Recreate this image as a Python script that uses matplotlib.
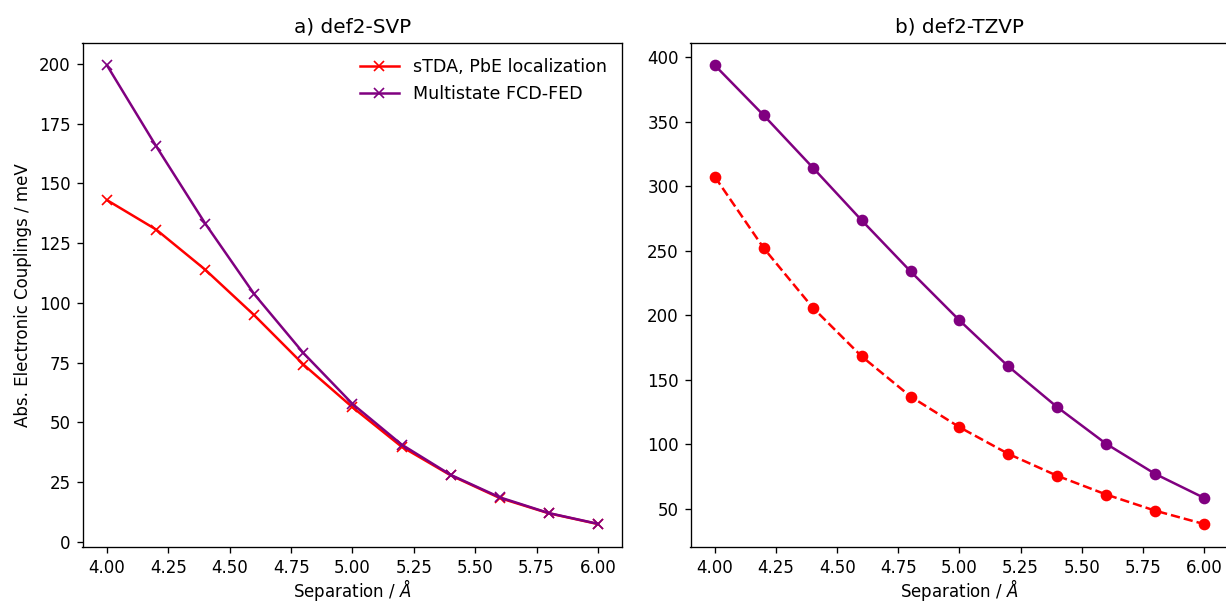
import matplotlib
matplotlib.use("Agg")
import matplotlib.pyplot as plt

# === Data ===
separation = [4.0, 4.2, 4.4, 4.6, 4.8, 5.0, 5.2, 5.4, 5.6, 5.8, 6.0]

svp_stda = [143.0, 130.7, 113.9, 94.8, 74.2, 56.3, 39.8, 27.8, 18.3, 11.9, 7.4]
svp_fcdfed = [199.4, 165.6, 133.2, 103.6, 79.0, 57.7, 40.7, 28.0, 18.6, 12.0, 7.5]

tzvp_stda = [307.1, 251.8, 205.8, 168.0, 136.9, 113.1, 92.4, 75.4, 60.9, 48.4, 38.0]
tzvp_fcdfed = [393.6, 354.8, 314.4, 273.5, 233.9, 195.9, 160.2, 128.6, 100.2, 76.9, 58.3]

# === Plot ===
W, H, DPI = 1226, 602, 120
fig = plt.figure(figsize=(W / DPI, H / DPI), dpi=DPI)
ax1 = fig.add_axes([82.5 / W, 55 / H, 540 / W, 504.5 / H])
ax2 = fig.add_axes([690.5 / W, 55 / H, 538 / W, 504.5 / H])

ax1.plot(separation, svp_stda, color='red', marker='x',
         label='sTDA, PbE localization')
ax1.plot(separation, svp_fcdfed, color='purple', marker='x',
         label='Multistate FCD-FED')
ax1.set_title("a) def2-SVP")
ax1.set_xlabel(r"Separation / $Å$", labelpad=0)
ax1.set_ylabel("Abs. Electronic Couplings / meV")
ax1.legend(loc='upper right', frameon=False, fontsize=10.5, handlelength=2.2)

ax2.plot(separation, tzvp_stda, color='red', marker='o', ls='--')
ax2.plot(separation, tzvp_fcdfed, color='purple', marker='o')
ax2.set_title("b) def2-TZVP")
ax2.set_xlabel(r"Separation / $Å$", labelpad=0)

fig.savefig('out.png', dpi=DPI)
